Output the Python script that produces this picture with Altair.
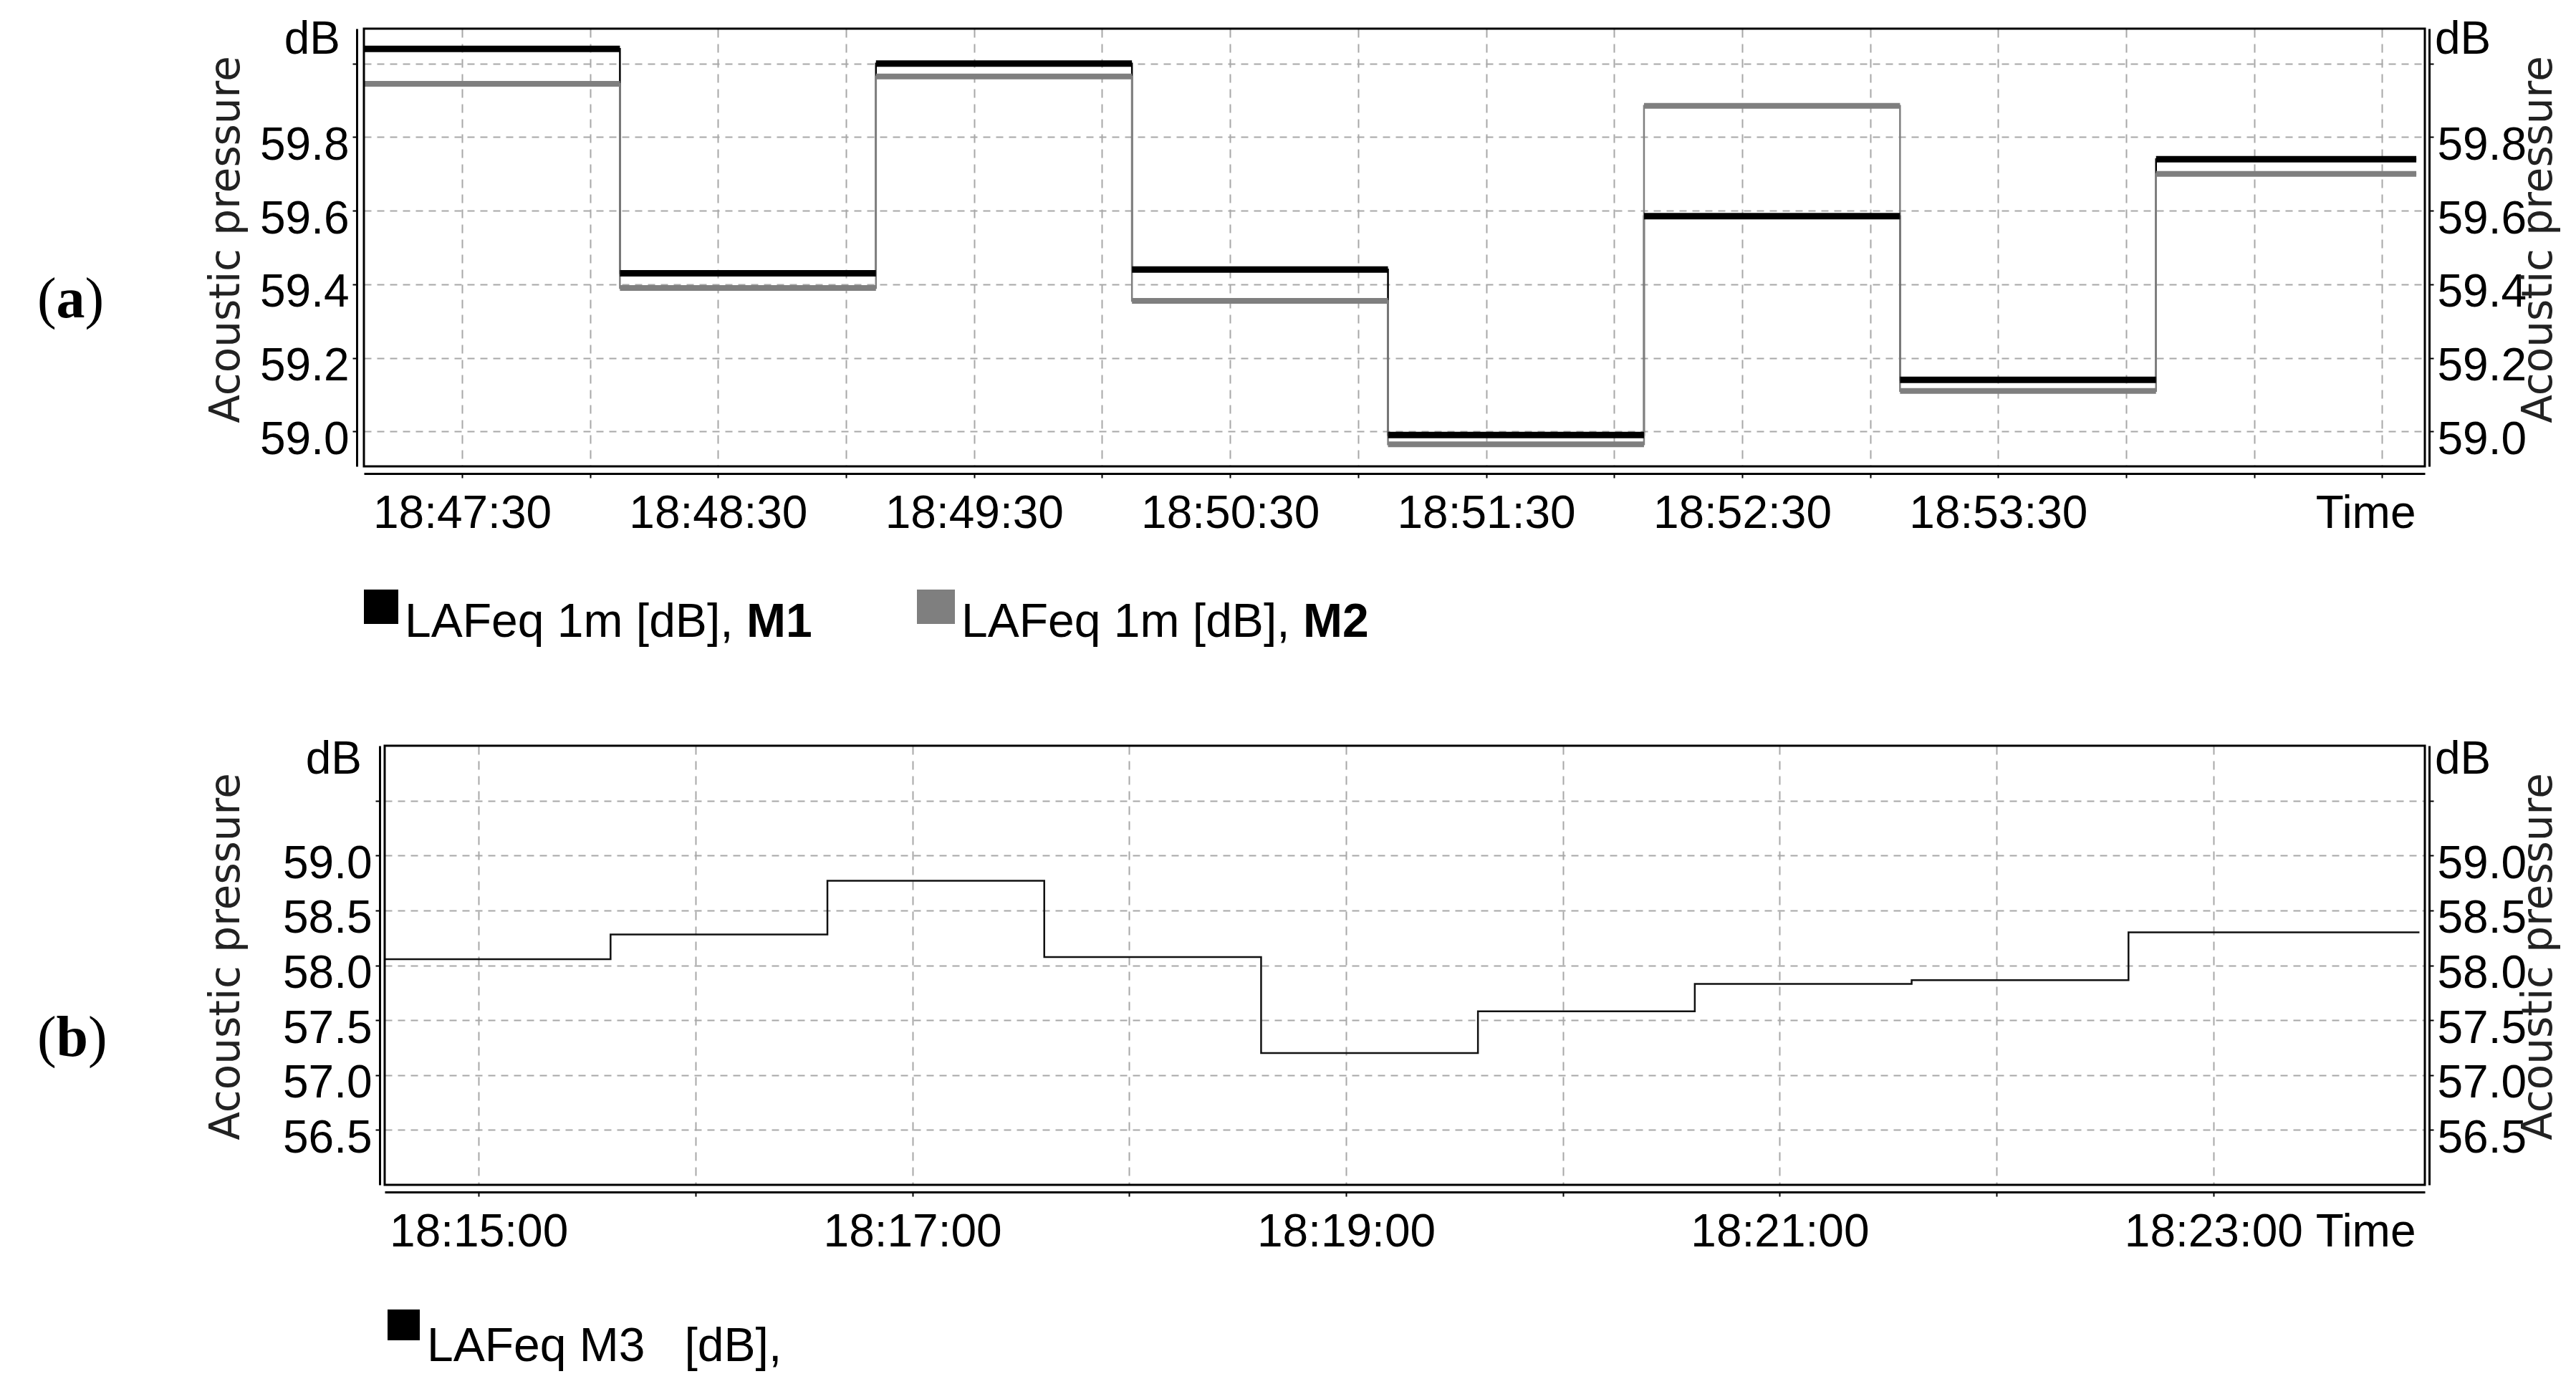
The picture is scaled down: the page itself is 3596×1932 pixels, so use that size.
import altair as alt
import pandas as pd

# ---------------- panel (a) data ----------------
a_starts = ["18:47:07", "18:48:07", "18:49:07", "18:50:07",
            "18:51:07", "18:52:07", "18:53:07", "18:54:07"]
a_ends = ["18:48:07", "18:49:07", "18:50:07", "18:51:07",
          "18:52:07", "18:53:07", "18:54:07", "18:55:08"]
m1_values = [60.04, 59.43, 60.00, 59.44, 58.99, 59.585, 59.14, 59.74]
m2_values = [59.945, 59.39, 59.965, 59.355, 58.965, 59.885, 59.11, 59.70]
a_colors = ["#000000", "#7f7f7f"]
a_legend_text = ["LAFeq 1m [dB],", "LAFeq 1m [dB],"]
a_legend_bold = ["M1", "M2"]
a_y_domain = [58.905, 60.095]
a_y_ticks = [59.0, 59.2, 59.4, 59.6, 59.8, 60.0]
a_y_labels = ["59.0", "59.2", "59.4", "59.6", "59.8"]
a_x_domain = ["18:47:07", "18:55:10"]
a_x_grid = ["18:47:30", "18:48:00", "18:48:30", "18:49:00", "18:49:30", "18:50:00",
            "18:50:30", "18:51:00", "18:51:30", "18:52:00", "18:52:30", "18:53:00",
            "18:53:30", "18:54:00", "18:54:30", "18:55:00"]
a_x_labels = ["18:47:30", "18:48:30", "18:49:30", "18:50:30",
              "18:51:30", "18:52:30", "18:53:30"]

# ---------------- panel (b) data ----------------
b_starts = ["18:14:34.000", "18:15:36.500", "18:16:36.500", "18:17:36.500", "18:18:36.500",
            "18:19:36.500", "18:20:36.500", "18:21:36.500", "18:22:36.500"]
b_ends = ["18:15:36.500", "18:16:36.500", "18:17:36.500", "18:18:36.500", "18:19:36.500",
          "18:20:36.500", "18:21:36.500", "18:22:36.500", "18:23:57.000"]
m3_values = [58.055, 58.28, 58.77, 58.075, 57.20, 57.58, 57.83, 57.865, 58.30]
b_legend_text = "LAFeq M3\u00a0\u00a0 [dB],"
b_y_domain = [56.0, 60.0]
b_y_ticks = [56.5, 57.0, 57.5, 58.0, 58.5, 59.0, 59.5]
b_y_labels = ["56.5", "57.0", "57.5", "58.0", "58.5", "59.0"]
b_x_domain = ["18:14:34", "18:23:58.500"]
b_x_grid = ["18:15:00", "18:16:00", "18:17:00", "18:18:00", "18:19:00",
            "18:20:00", "18:21:00", "18:22:00", "18:23:00"]
b_x_labels = ["18:15:00", "18:17:00", "18:19:00", "18:21:00", "18:23:00"]

# ---------------- layout constants ----------------
W = 2877
HA = 611
HB = 613
B_X0 = 29
SANS = "Liberation Sans"
SERIF = "Liberation Serif"
TITLE_FONT = "DejaVu Sans"
GRID = "#a8a8a8"


def iso(s):
    return "2020-01-01T" + s


def dt(s):
    h, m, sec = s.split(":")
    secf = float(sec)
    return alt.DateTime(year=2020, month=1, date=1, hours=int(h), minutes=int(m),
                        seconds=int(secf), milliseconds=int(round((secf - int(secf)) * 1000)))


def x_axis(grid, labels, width):
    lab = "[" + ",".join("'%s'" % s for s in labels) + "]"
    expr = (f"indexof({lab}, timeFormat(datum.value, '%H:%M:%S')) >= 0 ? "
            f"timeFormat(datum.value, '%H:%M:%S') : ''")
    return alt.Axis(values=[dt(s) for s in grid], labelExpr=expr, labelAngle=0,
                    labelFlush=False, labelOverlap=False, labelLimit=1000, labelFont=SANS,
                    labelFontSize=64, labelColor="black", labelPadding=18, labelBaseline="top",
                    grid=True, gridColor=GRID, gridWidth=2, gridDash=[12, 9],
                    domainColor="black", domainWidth=3, tickColor="black", tickWidth=2,
                    tickSize=6, offset=10, title="Time", titleFont=SANS, titleFontSize=64,
                    titleFontWeight="normal", titleColor="black", titleAngle=0,
                    titleAlign="right", titleBaseline="top", titleX=width - 13, titleY=24,
                    titleLimit=1000)


def y_axis(orient, ticks, labels, offset, title_x, grid):
    lab = "[" + ",".join("'%s'" % s for s in labels) + "]"
    expr = f"indexof({lab}, format(datum.value, '.1f')) >= 0 ? format(datum.value, '.1f') : ''"
    props = dict(orient=orient, values=ticks, labelExpr=expr, labelFlush=False,
                 labelOverlap=False, labelLimit=1000, labelFont=SANS, labelFontSize=64,
                 labelColor="black", labelPadding=5, labelBaseline="middle", labelOffset=12,
                 grid=grid, domainColor="black", domainWidth=3, tickColor="black",
                 tickWidth=2, tickSize=6, offset=offset, title="Acoustic pressure",
                 titleFont=TITLE_FONT, titleFontSize=58, titleFontWeight="normal",
                 titleColor="#222222", titleAngle=270, titleAlign="center",
                 titleBaseline="bottom" if orient == "left" else "top",
                 titleX=title_x, titleY=294, titleLimit=2000)
    if grid:
        props.update(gridColor=GRID, gridWidth=2, gridDash=[10, 8])
    return alt.Axis(**props)


def text_layer(s, x, y, size=64, weight="normal", align="left", font=SANS, color="black"):
    return alt.Chart(pd.DataFrame({"label": [s]})).mark_text(
        align=align, baseline="alphabetic", font=font, fontSize=size,
        fontWeight=weight, color=color
    ).encode(x=alt.value(x), y=alt.value(y), text="label:N")


def box_layer(x, x2, y, y2, fill=None):
    d = alt.Chart(pd.DataFrame({"k": [0]}))
    if fill:
        m = d.mark_rect(color=fill)
    else:
        m = d.mark_rect(fillOpacity=0, stroke="black", strokeWidth=3)
    return m.encode(x=alt.value(x), x2=alt.value(x2), y=alt.value(y), y2=alt.value(y2))


# ---------------- panel (a) ----------------
def xa(field):
    return alt.X(field + ":T",
                 scale=alt.Scale(domain=[dt(a_x_domain[0]), dt(a_x_domain[1])], range=[0, W]),
                 axis=x_axis(a_x_grid, a_x_labels, W))


ya_left = alt.Y("value:Q", scale=alt.Scale(domain=a_y_domain, nice=False, zero=False),
                axis=y_axis("left", a_y_ticks, a_y_labels, 10, -153, True))
ya_right = alt.Y("value:Q", scale=alt.Scale(domain=a_y_domain, nice=False, zero=False),
                 axis=y_axis("right", a_y_ticks, a_y_labels, 6, 124, False))


def seg_df(vals, starts, ends):
    return pd.DataFrame({"start": [iso(s) for s in starts],
                         "end": [iso(s) for s in ends], "value": vals})


def line_df(vals, starts, ends):
    return pd.DataFrame({"t": [iso(s) for s in starts + [ends[-1]]],
                         "value": vals + [vals[-1]]})


thin1 = alt.Chart(line_df(m1_values, a_starts, a_ends)).mark_line(
    interpolate="step-after", color=a_colors[0], strokeWidth=2.5).encode(x=xa("t"), y=ya_left)
thin2 = alt.Chart(line_df(m2_values, a_starts, a_ends)).mark_line(
    interpolate="step-after", color=a_colors[1], strokeWidth=2.5).encode(x=xa("t"), y=ya_left)
thick2 = alt.Chart(seg_df(m2_values, a_starts, a_ends)).mark_rule(
    color=a_colors[1], strokeWidth=8, strokeCap="butt").encode(x=xa("start"), x2="end:T", y=ya_left)
thick1 = alt.Chart(seg_df(m1_values, a_starts, a_ends)).mark_rule(
    color=a_colors[0], strokeWidth=9, strokeCap="butt").encode(x=xa("start"), x2="end:T", y=ya_left)
left_a = alt.layer(thin1, thin2, thick2, thick1)
right_a = alt.Chart(seg_df(m1_values, a_starts, a_ends)).mark_point(opacity=0).encode(
    x=xa("start"), y=ya_right)

texts_a = [
    text_layer("dB", -33, 35, align="right"),
    text_layer("dB", W + 14, 35),
    text_layer("(", -456, 403, size=80, font=SERIF),
    text_layer("a", -429.4, 403, size=80, font=SERIF, weight="bold"),
    text_layer(")", -389.4, 403, size=80, font=SERIF),
    box_layer(0, 48, HA + 172, HA + 220, fill=a_colors[0]),
    text_layer(a_legend_text[0], 57, HA + 238, size=66),
    text_layer(a_legend_bold[0], 534, HA + 238, size=66, weight="bold"),
    box_layer(772, 825, HA + 172, HA + 220, fill=a_colors[1]),
    text_layer(a_legend_text[1], 834, HA + 238, size=66),
    text_layer(a_legend_bold[1], 1311, HA + 238, size=66, weight="bold"),
]

panel_a = alt.layer(left_a, right_a, box_layer(0, W, 0, HA), *texts_a).resolve_scale(
    y="independent").properties(width=W, height=HA)


# ---------------- panel (b) ----------------
def xb(field):
    return alt.X(field + ":T",
                 scale=alt.Scale(domain=[dt(b_x_domain[0]), dt(b_x_domain[1])], range=[B_X0, W]),
                 axis=x_axis(b_x_grid, b_x_labels, W))


yb_left = alt.Y("value:Q", scale=alt.Scale(domain=b_y_domain, nice=False, zero=False),
                axis=y_axis("left", b_y_ticks, b_y_labels, -22, -185, True))
yb_right = alt.Y("value:Q", scale=alt.Scale(domain=b_y_domain, nice=False, zero=False),
                 axis=y_axis("right", b_y_ticks, b_y_labels, 6, 124, False))

line_b = alt.Chart(line_df(m3_values, b_starts, b_ends)).mark_line(
    interpolate="step-after", color="#111111", strokeWidth=2.5).encode(x=xb("t"), y=yb_left)
right_b = alt.Chart(seg_df(m3_values, b_starts, b_ends)).mark_point(opacity=0).encode(
    x=xb("start"), y=yb_right)

texts_b = [
    text_layer("dB", -3, 39, align="right"),
    text_layer("dB", W + 14, 39),
    text_layer("(", -456, 433, size=80, font=SERIF),
    text_layer("b", -429.4, 433, size=80, font=SERIF, weight="bold"),
    text_layer(")", -384.9, 433, size=80, font=SERIF),
    box_layer(33, 78, HB + 174, HB + 217, fill="#000000"),
    text_layer(b_legend_text, 88, HB + 246, size=66),
]

panel_b = alt.layer(line_b, right_b, box_layer(B_X0, W, 0, HB), *texts_b).resolve_scale(
    y="independent").properties(width=W, height=HB)

chart = alt.vconcat(panel_a, panel_b, spacing=125).properties(
    padding={"left": 43, "top": 15, "right": 0, "bottom": 5},
    background="white",
).configure_view(stroke="transparent")

chart.save("out.html", embed_options={"renderer": "svg", "actions": False})
